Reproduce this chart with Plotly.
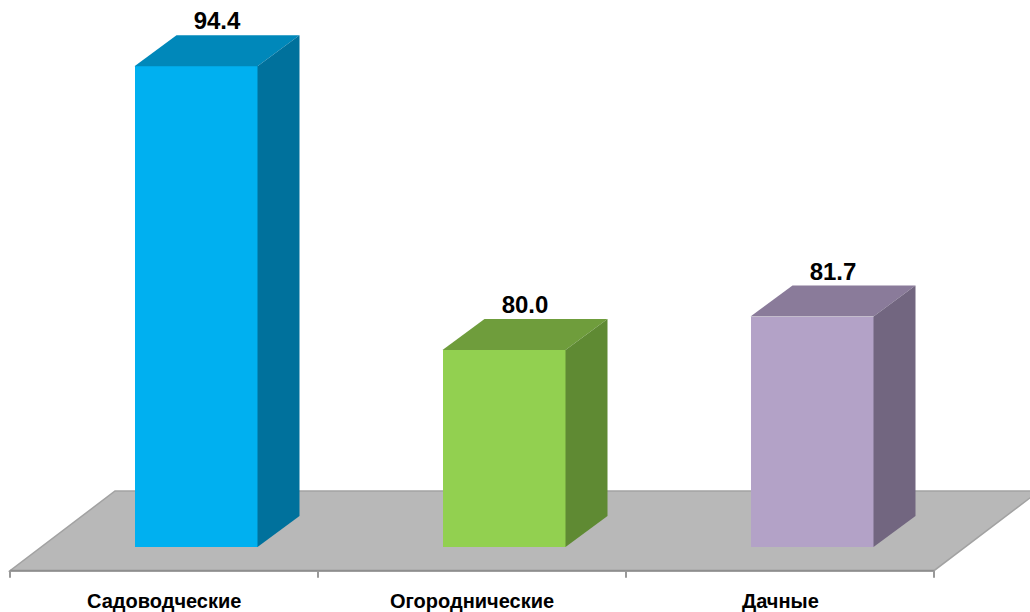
import plotly.graph_objects as go

# ---- data ----
categories = ["Садоводческие", "Огороднические", "Дачные"]
values = [94.4, 80.0, 81.7]
value_labels = ["94.4", "80.0", "81.7"]
front_colors = ["#00B0F0", "#92D050", "#B3A2C7"]
top_colors = ["#0088BA", "#6F9D3C", "#8A7B9A"]
side_colors = ["#00719C", "#5F8A33", "#726680"]

# ---- geometry (axis units) ----
BASE = 70.0            # value axis minimum (floor level)
PX_X = 308.0           # px per category
PX_Y = 19.7            # px per value unit
bar_w = 123 / PX_X
bar_shift = 32 / PX_X  # front face offset to the right of category centre
depth_x = 42 / PX_X
depth_y = 31 / PX_Y
floor_front = BASE - 23.7 / PX_Y
floor_back = BASE + 56 / PX_Y
floor_dx = 105 / PX_X
tick_len = 7 / PX_Y

fig = go.Figure()
n = len(categories)

# floor (below all traces)
fx = [-0.5, n - 0.5, n - 0.5 + floor_dx, -0.5 + floor_dx]
fy = [floor_front, floor_front, floor_back, floor_back]
path = "M " + " L ".join(f"{a},{b}" for a, b in zip(fx, fy)) + " Z"
fig.add_shape(type="path", path=path, xref="x", yref="y", layer="below",
              fillcolor="#B8B8B8", line=dict(color="#A2A2A2", width=1.5))

# axis line + ticks
fig.add_shape(type="line", xref="x", yref="y", layer="below",
              x0=-0.5, x1=n - 0.5, y0=floor_front, y1=floor_front,
              line=dict(color="#8E8E8E", width=2))
for k in range(n + 1):
    fig.add_shape(type="line", xref="x", yref="y", layer="below",
                  x0=k - 0.5, x1=k - 0.5, y0=floor_front, y1=floor_front - tick_len,
                  line=dict(color="#999999", width=2))

# bars: front faces
centers = [i + bar_shift for i in range(n)]
fig.add_trace(go.Bar(x=centers, y=[v - BASE for v in values], base=BASE,
                     width=bar_w, marker=dict(color=front_colors, line=dict(width=0)),
                     hoverinfo="skip", showlegend=False))

# top and side faces
for i, v in enumerate(values):
    xl = centers[i] - bar_w / 2
    xr = centers[i] + bar_w / 2
    fig.add_trace(go.Scatter(
        x=[xl, xr, xr + depth_x, xl + depth_x, xl],
        y=[v, v, v + depth_y, v + depth_y, v],
        mode="lines", fill="toself", fillcolor=top_colors[i],
        line=dict(width=0, color=top_colors[i]), hoverinfo="skip", showlegend=False))
    fig.add_trace(go.Scatter(
        x=[xr, xr + depth_x, xr + depth_x, xr, xr],
        y=[BASE, BASE + depth_y, v + depth_y, v, BASE],
        mode="lines", fill="toself", fillcolor=side_colors[i],
        line=dict(width=0, color=side_colors[i]), hoverinfo="skip", showlegend=False))

# value labels
fig.add_trace(go.Scatter(
    x=[c + depth_x / 2 for c in centers], y=[v + depth_y for v in values],
    mode="text", text=value_labels, textposition="top center",
    textfont=dict(family="Liberation Sans, Arial", size=24, color="black", weight="bold"),
    hoverinfo="skip", showlegend=False, cliponaxis=False))

# category labels
for i, c in enumerate(categories):
    fig.add_annotation(x=i, y=BASE - 54 / PX_Y, text=c, showarrow=False,
                       xanchor="center", yanchor="middle",
                       font=dict(family="Liberation Sans, Arial", size=20,
                                 color="black", weight="bold"))

fig.update_layout(
    width=1030, height=612,
    margin=dict(l=0, r=0, t=0, b=0),
    paper_bgcolor="white", plot_bgcolor="white",
    xaxis=dict(range=[-164 / PX_X, (1030 - 164) / PX_X], visible=False, fixedrange=True),
    yaxis=dict(range=[BASE - 65 / PX_Y, BASE + 547 / PX_Y], visible=False, fixedrange=True),
    bargap=0,
)

fig.write_html("out.html", config={"displayModeBar": False},
               post_script="document.body.style.margin='0px';document.body.style.overflow='hidden';")
